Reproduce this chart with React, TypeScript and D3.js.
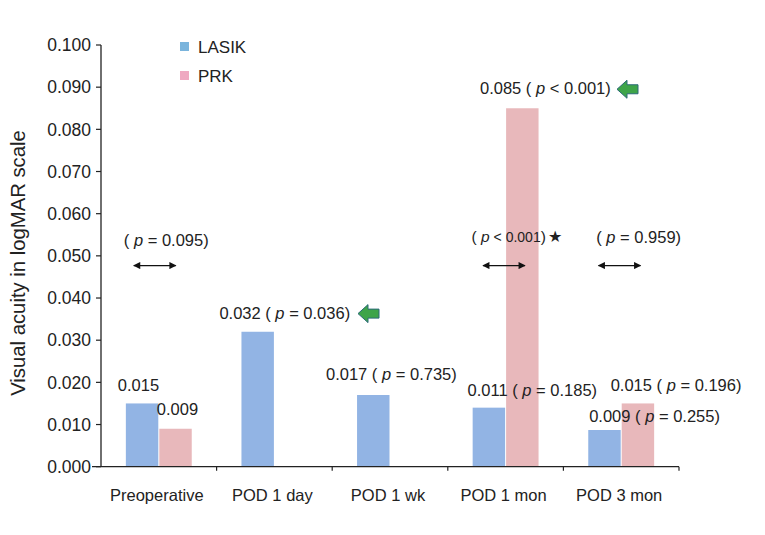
import React from 'react';
import * as d3 from 'd3';

const categories = ['Preoperative', 'POD 1 day', 'POD 1 wk', 'POD 1 mon', 'POD 3 mon'];
const seriesNames = ['LASIK', 'PRK'];
const lasik = [0.015, 0.032, 0.017, 0.014, 0.0087];
const prk = [0.009, 0, 0, 0.085, 0.015];
const yTicks = [0, 0.01, 0.02, 0.03, 0.04, 0.05, 0.06, 0.07, 0.08, 0.09, 0.1];

// value labels: [category, dx from center, baseline value, before, p-op, after]
const labels = [
  ['Preoperative', -41, 0.018, '0.015', null, ''],
  ['Preoperative', -2, 0.0123, '0.009', null, ''],
  ['POD 1 day', -55, 0.0351, '0.032 ( ', '=', '0.036)'],
  ['Preoperative', -35, 0.0524, '( ', '=', '0.095)'],
  ['POD 1 wk', -64, 0.0206, '0.017 ( ', '=', '0.735)'],
  ['POD 1 mon', -38, 0.0168, '0.011 ( ', '=', '0.185)'],
  ['POD 1 mon', -25.6, 0.0883, '0.085 ( ', '<', '0.001)'],
  ['POD 3 mon', -10.5, 0.018, '0.015 ( ', '=', '0.196)'],
  ['POD 3 mon', -32, 0.0106, '0.009 ( ', '=', '0.255)'],
  ['POD 3 mon', -25, 0.0531, '( ', '=', '0.959)'],
];
const compareArrows = [['Preoperative', -4], ['POD 1 mon', -1.6], ['POD 3 mon', -1.7]];
const compareY = 0.0477;
const greenArrows = [['POD 1 day', 83.6, 0.0363], ['POD 1 mon', 111.4, 0.0895]];

const W = 765;
const H = 535;
const left = 101;
const right = 679;
const top = 45;
const bottom = 466.7;
const font = '"Liberation Sans", Arial, sans-serif';

export default function App() {
  const x0 = d3.scaleBand().domain(categories).range([left, right]).padding(0);
  const bw = x0.bandwidth();
  const x1 = d3.scaleBand().domain(seriesNames)
    .range([bw * 0.215, bw * 0.785]).paddingInner(0.03);
  const y = d3.scaleLinear().domain([0, 0.1]).range([bottom, top]);
  const cx = (c) => x0(c) + bw / 2;

  const bars = [];
  categories.forEach((c, i) => {
    [lasik[i], prk[i]].forEach((v, j) => {
      if (!v) return;
      bars.push(
        <rect key={c + j} x={x0(c) + x1(seriesNames[j])} y={y(v)}
          width={x1.bandwidth()} height={y(0) - y(v)}
          fill={j === 0 ? '#92b4e4' : '#e8b8bb'} />
      );
    });
  });

  const half = 21;
  return (
    <svg width={W} height={H} style={{ position: 'absolute', left: 0, top: 0 }}
      fontFamily={font}>
      <defs>
        <marker id="ah" viewBox="0 0 10 10" refX="9" refY="5" markerWidth="6" markerHeight="5.5"
          orient="auto-start-reverse">
          <path d="M0,0 L10,5 L0,10 z" fill="#111" />
        </marker>
      </defs>
      <rect width={W} height={H} fill="white" />
      {bars}
      {/* y axis */}
      <line x1={left} x2={left} y1={top} y2={bottom} stroke="#222" strokeWidth={1.3} />
      {yTicks.map((t) => (
        <g key={t}>
          <line x1={left - 5} x2={left} y1={y(t)} y2={y(t)} stroke="#222" strokeWidth={1.2} />
          <text x={left - 10} y={y(t)} dy="0.36em" textAnchor="end" fontSize={17.5} fill="#222">
            {d3.format('.3f')(t)}
          </text>
        </g>
      ))}
      {/* x axis */}
      <line x1={left - 9} x2={right} y1={bottom} y2={bottom} stroke="#222" strokeWidth={1.3} />
      {categories.map((c) => (
        <line key={c} x1={x0(c) + bw} x2={x0(c) + bw} y1={bottom} y2={bottom + 4}
          stroke="#222" strokeWidth={1.2} />
      ))}
      {categories.map((c) => (
        <text key={c} x={cx(c) - 2} y={501} textAnchor="middle" fontSize={16.5} fill="#222">{c}</text>
      ))}
      <text transform={`translate(25, 263) rotate(-90)`} textAnchor="middle" fontSize={20.3} fill="#222">
        Visual acuity in logMAR scale
      </text>
      {/* legend */}
      {seriesNames.map((s, i) => (
        <g key={s}>
          <rect x={180} y={42 + i * 29} width={9} height={9} fill={i === 0 ? '#7ab4dc' : '#efa9c1'} />
          <text x={198} y={47 + i * 29} dy="0.36em" fontSize={17} fill="#222">{s}</text>
        </g>
      ))}
      {/* annotations */}
      {labels.map(([c, dx, v, a, op, b], i) => (
        <text key={i} x={cx(c) + dx} y={y(v)} fontSize={16.5} fill="#222">
          {op ? (
            <>
              <tspan>{a}</tspan>
              <tspan fontStyle="italic">p</tspan>
              <tspan>{' ' + op + ' ' + b}</tspan>
            </>
          ) : a}
        </text>
      ))}
      <text x={cx('POD 1 mon') - 34} y={y(0.0534)} fontSize={14} fill="#222">
        <tspan fontSize={15.5}>( </tspan>
        <tspan fontSize={15.5} fontStyle="italic">p</tspan>
        <tspan>{' < 0.001'}</tspan>
        <tspan fontSize={15.5}>)</tspan>
        <tspan fontSize={16} dx={2}>★</tspan>
      </text>
      {compareArrows.map(([c, dx]) => (
        <line key={c} x1={cx(c) + dx - half} x2={cx(c) + dx + half} y1={y(compareY)} y2={y(compareY)}
          stroke="#111" strokeWidth={1.3} markerStart="url(#ah)" markerEnd="url(#ah)" />
      ))}
      {greenArrows.map(([c, dx, v]) => {
        const x = cx(c) + dx;
        const yy = y(v);
        const p = `M${x},${yy} L${x + 10},${yy - 9} L${x + 10},${yy - 4.5} L${x + 21},${yy - 4.5} L${x + 21},${yy + 4.5} L${x + 10},${yy + 4.5} L${x + 10},${yy + 9} Z`;
        return <path key={c} d={p} fill="#3ea449" stroke="#2b6a78" strokeWidth={1} />;
      })}
    </svg>
  );
}
